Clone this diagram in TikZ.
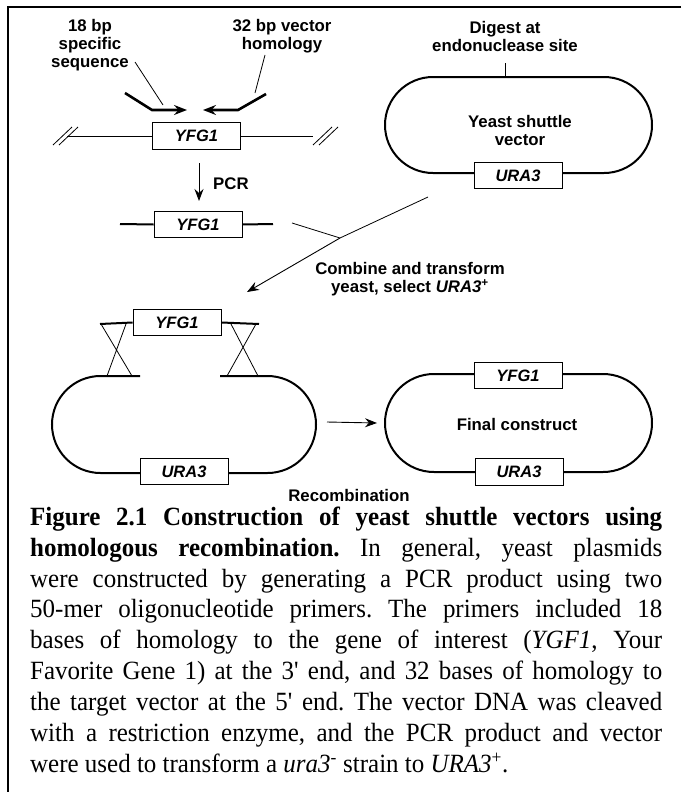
\documentclass[tikz,border=0pt]{standalone}
\usepackage{fontspec}
\setmainfont{Liberation Serif}
\setsansfont{Liberation Sans}
\newfontfamily\capfont{Liberation Serif}[FakeStretch=0.95]
\usetikzlibrary{arrows.meta}

\begin{document}
\begin{tikzpicture}[x=1pt, y=-1pt,
    % Estilos de las cajas y lineas
    labeltext/.style={font=\sffamily\bfseries\fontsize{16.8}{18}\selectfont, align=center, inner sep=0},
    genebox/.style={draw, line width=0.9pt, fill=white, minimum width=88pt, minimum height=26.5pt, inner sep=0,
        font=\sffamily\bfseries\itshape\fontsize{16.5}{18}\selectfont},
    plasmid/.style={draw, line width=2pt, rounded corners=48pt, minimum width=267pt, minimum height=96pt, inner sep=0},
    dnaline/.style={line width=2pt},
    thinline/.style={line width=0.8pt},
    primer/.style={line width=2.6pt, -{Stealth[length=13pt,width=10pt,inset=4.5pt]}},
    steparrow/.style={line width=0.9pt, -{Stealth[length=12pt,width=9pt,inset=4pt]}}
]
\useasboundingbox (0,0) rectangle (681,795);

% --- FRAME ---
\draw[line width=1.6pt] (681,7) -- (8,7) -- (8,792);

% --- GENOMIC DNA ---
\node[genebox] (gen) at (196.5,136) {YFG1};
\coordinate (genL) at (67,136);
\coordinate (genR) at (313,136);
\draw[thinline] (genL) -- (gen.west) (gen.east) -- (genR);
\draw[thinline] (53,145) -- (72,127) (59,145) -- (78,127);
\draw[thinline] (313,145) -- (332,127) (319,145) -- (338,127);

% --- PRIMERS ---
\coordinate (fwdA) at (125,93);
\coordinate (fwdB) at (152,110);
\coordinate (fwdC) at (187,110);
\coordinate (revA) at (266,94);
\coordinate (revB) at (238,110);
\coordinate (revC) at (203,110);
\draw[primer] (fwdA) -- (fwdB) -- (fwdC);
\draw[primer] (revA) -- (revB) -- (revC);

\node[labeltext] (spec) at (90,45.5) {18 bp\\specific\\sequence};
\node[labeltext] (vhom) at (282,36.5) {32 bp vector\\homology};
\coordinate (specA) at (135,62);
\coordinate (specB) at (163,105);
\coordinate (vhomA) at (265,55);
\coordinate (vhomB) at (255,93);
\draw[thinline] (specA) -- (specB);
\draw[thinline] (vhomA) -- (vhomB);

% --- PCR ---
\coordinate (pcrTop) at (199,163);
\coordinate (pcrBot) at (199,201);
\draw[steparrow] (pcrTop) -- (pcrBot);
\node[labeltext, anchor=west] (pcr) at (213,184) {PCR};

\node[genebox] (prod) at (198,224.5) {YFG1};
\coordinate (prodL) at (120,224);
\coordinate (prodR) at (273,224);
\draw[dnaline] (prodL) -- (prod.west) (prod.east) -- (prodR);

% --- SHUTTLE VECTOR ---
\node[plasmid] (vec) at (518.5,125) {};
\node[labeltext] (vectxt) at (520,130.5) {Yeast shuttle\\vector};
\node[genebox] (vecura) at (518,175.5) {URA3};
\node[labeltext] (digest) at (505,36.5) {Digest at\\endonuclease site};
\coordinate (cut) at (505,63);
\draw[thinline] (cut) -- (cut |- vec.north);

% --- COMBINE ---
\coordinate (fromProd) at (292,223);
\coordinate (fromVec) at (428,197);
\coordinate (join) at (340,238);
\coordinate (combTip) at (247,292);
\draw[thinline] (fromProd) -- (join) -- (fromVec);
\draw[steparrow] (join) -- (combTip);
\node[labeltext] (comb) at (410,279) {Combine and transform\\yeast, select \textit{URA3}\textsuperscript{+}};

% --- INTERMEDIATE ---
\node[genebox] (insert) at (177,322.5) {YFG1};
\draw[dnaline] (100,324) -- (insert.west) (insert.east) -- (259,324);
\draw[thinline] (101,324) -- (132,376) (126,324) -- (107,376);
\draw[thinline] (231,324) -- (258,376) (256,324) -- (227,376);
\draw[dnaline] (140,376) -- (100.5,376) arc[start angle=270, end angle=90, radius=48.5]
    -- (267.5,473) arc[start angle=90, end angle=-90, radius=48.5] -- (220,376);
\node[genebox] (interura) at (184,471.5) {URA3};

% --- FINAL CONSTRUCT ---
\node[plasmid, rounded corners=49pt, minimum height=98pt] (fin) at (518.5,423) {};
\node[labeltext] (fintxt) at (517,424.5) {Final construct};
\node[genebox] (finyfg) at (518,375.5) {YFG1};
\node[genebox] (finura) at (519,472) {URA3};

\coordinate (recA) at (327,422);
\draw[steparrow] (recA) -- ([xshift=-7pt]fin.west);
\node[labeltext] (recomb) at (349,495) {Recombination};

% --- CAPTION ---
\node[anchor=north west, inner sep=0, text width=632pt, align=justify,
      font=\capfont\fontsize{26.3}{30.9}\selectfont] (caption) at (30,506.5)
{\noindent\frenchspacing\hyphenpenalty=10000\exhyphenpenalty=10000
\textbf{Figure 2.1 Construction of yeast shuttle vectors using}\linebreak
\textbf{homologous recombination.} In general, yeast plasmids\linebreak
were constructed by generating a PCR product using two\linebreak
50-mer oligonucleotide primers. The primers included 18\linebreak
bases of homology to the gene of interest (\textit{YGF1}, Your\linebreak
Favorite Gene 1) at the 3\textquotesingle{} end, and 32 bases of homology to\linebreak
the target vector at the 5\textquotesingle{} end. The vector DNA was cleaved\linebreak
with a restriction enzyme, and the PCR product and vector\linebreak
were used to transform a \textit{ura3}\textsuperscript{-} strain to \textit{URA3}\textsuperscript{+}.};

\end{tikzpicture}
\end{document}
